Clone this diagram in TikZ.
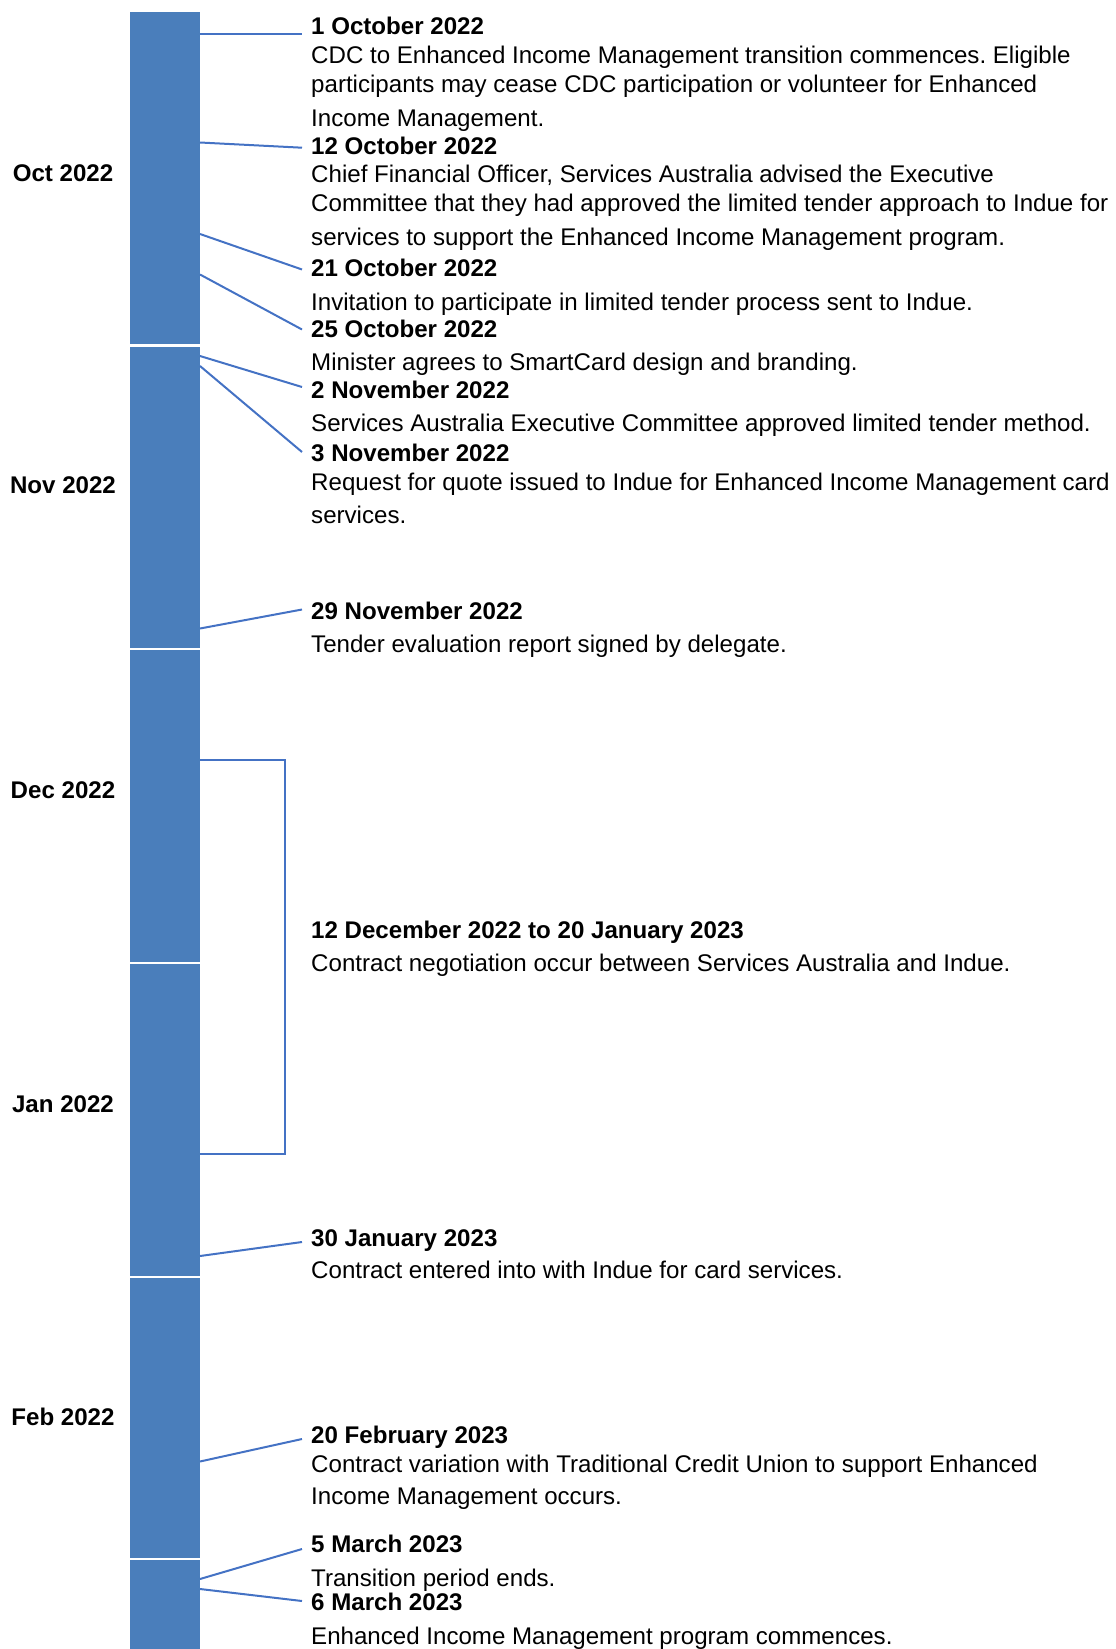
\documentclass[tikz,border=0pt]{standalone}
\usepackage{fontspec}
\setmainfont{Liberation Sans}
\definecolor{barblue}{HTML}{4A7EBB}
\definecolor{lineblue}{HTML}{4472C4}
\frenchspacing
\begin{document}
\begin{tikzpicture}[x=1pt,y=-1pt,
  month/.style={anchor=base, inner sep=0pt, font=\bfseries\fontsize{24.1}{28}\selectfont},
  title/.style={anchor=base west, inner sep=0pt, font=\bfseries\fontsize{24.1}{28}\selectfont},
  desc/.style={anchor=base west, inner sep=0pt, font=\fontsize{24.1}{28}\selectfont},
  conn/.style={draw=lineblue, line width=2pt},
  seg/.style={fill=barblue}]
\useasboundingbox (0,0) rectangle (1116,1649);
% bar segments
\fill[seg] (130,12) rectangle (200,344);
\fill[seg] (130,346.5) rectangle (200,648);
\fill[seg] (130,650) rectangle (200,961.5);
\fill[seg] (130,963.5) rectangle (200,1275.5);
\fill[seg] (130,1277.5) rectangle (200,1558);
\fill[seg] (130,1560) rectangle (200,1649);
% month labels
\node[month] (moct) at (63,181) {Oct 2022};
\node[month] (mnov) at (63,493) {Nov 2022};
\node[month] (mdec) at (63,798) {Dec 2022};
\node[month] (mjan) at (63,1112.5) {Jan 2022};
\node[month] (mfeb) at (63,1425) {Feb 2022};
% events
\def\tx{311}
\node[title] (t1) at (\tx,34.3) {1 October 2022};
\node[desc] (d1a) at (\tx,63.3) {CDC to Enhanced Income Management transition commences. Eligible};
\node[desc] (d1b) at (\tx,92.7) {participants may cease CDC participation or volunteer for Enhanced};
\node[desc] (d1c) at (\tx,126) {Income Management.};
\node[title] (t2) at (\tx,154) {12 October 2022};
\node[desc] (d2a) at (\tx,182.7) {Chief Financial Officer, Services Australia advised the Executive};
\node[desc] (d2b) at (\tx,211.7) {Committee that they had approved the limited tender approach to Indue for};
\node[desc] (d2c) at (\tx,245.7) {services to support the Enhanced Income Management program.};
\node[title] (t3) at (\tx,276.7) {21 October 2022};
\node[desc] (d3a) at (\tx,310.7) {Invitation to participate in limited tender process sent to Indue.};
\node[title] (t4) at (\tx,337.7) {25 October 2022};
\node[desc] (d4a) at (\tx,370) {Minister agrees to SmartCard design and branding.};
\node[title] (t5) at (\tx,398.3) {2 November 2022};
\node[desc] (d5a) at (\tx,431.7) {Services Australia Executive Committee approved limited tender method.};
\node[title] (t6) at (\tx,461.7) {3 November 2022};
\node[desc] (d6a) at (\tx,490) {Request for quote issued to Indue for Enhanced Income Management card};
\node[desc] (d6b) at (\tx,523) {services.};
\node[title] (t7) at (\tx,619.6) {29 November 2022};
\node[desc] (d7a) at (\tx,652.7) {Tender evaluation report signed by delegate.};
\node[title] (t8) at (\tx,938.8) {12 December 2022 to 20 January 2023};
\node[desc] (d8a) at (\tx,971) {Contract negotiation occur between Services Australia and Indue.};
\node[title] (t9) at (\tx,1246) {30 January 2023};
\node[desc] (d9a) at (\tx,1278.3) {Contract entered into with Indue for card services.};
\node[title] (t10) at (\tx,1443.3) {20 February 2023};
\node[desc] (d10a) at (\tx,1472.7) {Contract variation with Traditional Credit Union to support Enhanced};
\node[desc] (d10b) at (\tx,1504.3) {Income Management occurs.};
\node[title] (t11) at (\tx,1552.3) {5 March 2023};
\node[desc] (d11a) at (\tx,1586.7) {Transition period ends.};
\node[title] (t12) at (\tx,1610) {6 March 2023};
\node[desc] (d12a) at (\tx,1644) {Enhanced Income Management program commences.};
% connector endpoints
\coordinate (b1) at (200,33.7);  \coordinate (e1) at (302,33.7);
\coordinate (b2) at (200,142.5); \coordinate (e2) at (302,147.7);
\coordinate (b3) at (200,234);   \coordinate (e3) at (302,269.5);
\coordinate (b4) at (200,274.5); \coordinate (e4) at (302,329.5);
\coordinate (b5) at (200,356);   \coordinate (e5) at (302,387);
\coordinate (b6) at (200,366);   \coordinate (e6) at (302,452);
\coordinate (b7) at (200,628.5); \coordinate (e7) at (302,609.5);
\coordinate (b8) at (200,760);   \coordinate (k8) at (285,760);
\coordinate (k8b) at (285,1154); \coordinate (e8) at (200,1154);
\coordinate (b9) at (200,1256);  \coordinate (e9) at (302,1242);
\coordinate (b10) at (200,1461.5); \coordinate (e10) at (302,1439);
\coordinate (b11) at (200,1579); \coordinate (e11) at (302,1549);
\coordinate (b12) at (200,1589); \coordinate (e12) at (302,1601);
\draw[conn] (b1) -- (e1);
\draw[conn] (b2) -- (e2);
\draw[conn] (b3) -- (e3);
\draw[conn] (b4) -- (e4);
\draw[conn] (b5) -- (e5);
\draw[conn] (b6) -- (e6);
\draw[conn] (b7) -- (e7);
\draw[conn] (b8) -- (k8) -- (k8b) -- (e8);
\draw[conn] (b9) -- (e9);
\draw[conn] (b10) -- (e10);
\draw[conn] (b11) -- (e11);
\draw[conn] (b12) -- (e12);
\end{tikzpicture}
\end{document}
